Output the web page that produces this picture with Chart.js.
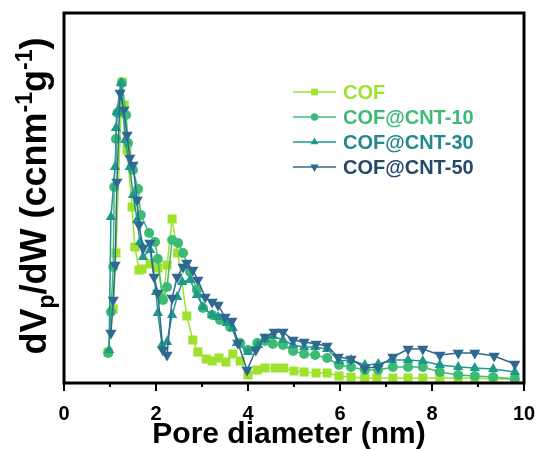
<!DOCTYPE html>
<html>
<head>
<meta charset="utf-8">
<script src="https://cdn.jsdelivr.net/npm/chart.js@4.4.1/dist/chart.umd.min.js"></script>
<style>
  body { margin: 0; background: #fff; }
  #wrap { width: 539px; height: 450px; }
</style>
</head>
<body>
<div id="wrap"><canvas id="psd" width="539" height="450"></canvas></div>
<script>
// pore size distribution (y in arbitrary units)
const seriesNames = ['COF', 'COF@CNT-10', 'COF@CNT-30', 'COF@CNT-50'];

const cofX = [0.96, 1.07, 1.13, 1.26, 1.31, 1.37, 1.48, 1.54, 1.63, 1.70, 1.87, 2.04, 2.15, 2.24, 2.35, 2.47, 2.67, 2.80, 2.91, 3.09, 3.22, 3.37, 3.52, 3.67, 3.83, 4.00, 4.20, 4.37, 4.59, 4.78, 5.00, 5.22, 5.48, 5.72, 5.98, 6.24, 6.54, 6.80, 7.15, 7.48, 7.80, 8.17, 8.57, 8.93, 9.33, 9.80];
const cofY = [0.31, 0.74, 1.30, 3.01, 2.78, 2.33, 1.76, 1.36, 1.13, 1.14, 1.19, 1.15, 0.84, 1.18, 1.64, 1.30, 0.67, 0.43, 0.31, 0.24, 0.22, 0.25, 0.21, 0.29, 0.22, 0.08, 0.13, 0.15, 0.15, 0.15, 0.12, 0.11, 0.10, 0.10, 0.07, 0.06, 0.05, 0.05, 0.05, 0.05, 0.05, 0.05, 0.05, 0.05, 0.04, 0.04];

const cnt10X = [0.96, 1.02, 1.07, 1.09, 1.13, 1.16, 1.26, 1.35, 1.39, 1.50, 1.61, 1.67, 1.85, 1.98, 2.04, 2.15, 2.24, 2.35, 2.48, 2.59, 2.74, 2.89, 3.02, 3.22, 3.39, 3.61, 3.83, 4.00, 4.20, 4.37, 4.54, 4.76, 4.98, 5.22, 5.46, 5.72, 5.98, 6.24, 6.54, 6.83, 7.15, 7.48, 7.80, 8.17, 8.57, 8.93, 9.33, 9.80];
const cnt10Y = [0.30, 0.71, 1.16, 1.96, 2.44, 2.70, 3.00, 2.68, 2.40, 2.13, 1.94, 1.68, 1.50, 1.41, 1.24, 0.83, 0.96, 1.43, 1.40, 1.30, 1.11, 0.93, 0.75, 0.68, 0.63, 0.56, 0.40, 0.33, 0.40, 0.42, 0.39, 0.38, 0.32, 0.29, 0.28, 0.25, 0.18, 0.16, 0.13, 0.13, 0.16, 0.16, 0.16, 0.11, 0.08, 0.07, 0.06, 0.04];

const cnt30X = [0.98, 1.02, 1.11, 1.13, 1.15, 1.24, 1.33, 1.43, 1.50, 1.59, 1.65, 1.72, 1.87, 2.00, 2.04, 2.13, 2.24, 2.35, 2.46, 2.57, 2.74, 2.89, 3.02, 3.22, 3.35, 3.54, 3.67, 3.76, 4.00, 4.22, 4.37, 4.54, 4.76, 4.98, 5.22, 5.46, 5.72, 5.98, 6.24, 6.54, 6.83, 7.13, 7.48, 7.80, 8.17, 8.57, 8.93, 9.33, 9.80];
const cnt30Y = [0.33, 1.66, 2.16, 2.55, 2.71, 3.00, 2.43, 2.16, 1.88, 1.63, 1.41, 1.26, 1.33, 0.91, 0.70, 0.38, 0.41, 0.68, 0.86, 1.01, 1.03, 0.88, 0.76, 0.68, 0.66, 0.60, 0.55, 0.40, 0.31, 0.38, 0.44, 0.47, 0.43, 0.38, 0.36, 0.36, 0.34, 0.22, 0.23, 0.18, 0.19, 0.23, 0.23, 0.22, 0.18, 0.16, 0.15, 0.14, 0.11];

const cnt50X = [1.02, 1.07, 1.11, 1.15, 1.22, 1.30, 1.37, 1.43, 1.50, 1.59, 1.63, 1.72, 1.87, 1.96, 2.04, 2.15, 2.24, 2.35, 2.46, 2.59, 2.67, 2.80, 2.91, 3.07, 3.22, 3.35, 3.50, 3.65, 3.78, 3.98, 4.17, 4.37, 4.57, 4.76, 4.98, 5.22, 5.48, 5.72, 5.96, 6.24, 6.54, 6.83, 7.15, 7.48, 7.80, 8.17, 8.57, 8.93, 9.35, 9.80];
const cnt50Y = [0.50, 0.83, 1.18, 2.01, 2.90, 2.73, 2.48, 2.25, 2.18, 1.83, 1.58, 1.35, 1.40, 1.06, 0.90, 0.33, 0.28, 0.85, 1.06, 1.16, 1.20, 1.13, 1.03, 0.86, 0.81, 0.78, 0.66, 0.62, 0.40, 0.13, 0.33, 0.46, 0.51, 0.51, 0.43, 0.41, 0.39, 0.37, 0.26, 0.24, 0.15, 0.16, 0.26, 0.34, 0.34, 0.28, 0.30, 0.30, 0.27, 0.19];

const xTicks = [0, 2, 4, 6, 8, 10];

const lineColors = ['#9ee22e', '#3cbb75', '#1f9a8a', '#2f6890'];
const textColors = ['#9ee22e', '#3cbb75', '#23898d', '#26486a'];
const markers = [
  { style: 'rect', radius: 6.4, rotation: 0 },
  { style: 'circle', radius: 5, rotation: 0 },
  { style: 'triangle', radius: 6, rotation: 0 },
  { style: 'triangle', radius: 6.5, rotation: 180 }
];

function toPoints(xs, ys) {
  return xs.map((x, i) => ({ x: x, y: ys[i] }));
}

const allX = [cofX, cnt10X, cnt30X, cnt50X];
const allY = [cofY, cnt10Y, cnt30Y, cnt50Y];

const datasets = seriesNames.map((name, i) => ({
  label: name,
  data: toPoints(allX[i], allY[i]),
  borderColor: lineColors[i],
  backgroundColor: lineColors[i],
  borderWidth: 1.5,
  pointStyle: markers[i].style,
  pointRadius: markers[i].radius,
  pointRotation: markers[i].rotation,
  pointBorderWidth: 0,
  tension: 0,
  order: 4 - i
}));

const FONT = '"Liberation Sans", Arial, sans-serif';

// frame, tick marks, axis titles and the legend
const decor = {
  id: 'decor',
  afterDatasetsDraw(chart) {
    const ctx = chart.ctx;
    const a = chart.chartArea;
    const xs = chart.scales.x;
    ctx.save();

    ctx.strokeStyle = '#000';
    ctx.lineWidth = 3;
    ctx.strokeRect(a.left, a.top, a.right - a.left, a.bottom - a.top);

    ctx.lineWidth = 2;
    for (let v = 0; v <= 10; v++) {
      const px = xs.getPixelForValue(v);
      const len = v % 2 === 0 ? 8 : 4;
      ctx.beginPath();
      ctx.moveTo(px, a.bottom);
      ctx.lineTo(px, a.bottom + len);
      ctx.stroke();
    }

    // x title
    ctx.fillStyle = '#000';
    ctx.font = 'bold 30px ' + FONT;
    ctx.textAlign = 'center';
    ctx.textBaseline = 'alphabetic';
    ctx.fillText('Pore diameter (nm)', 289, 443);

    // y title with sub/superscripts
    const big = 36, small = 23;
    const parts = [
      { t: 'dV', s: big, dy: 0 },
      { t: 'p', s: small, dy: 8 },
      { t: '/dW (ccnm', s: big, dy: 0 },
      { t: '-1', s: small, dy: -14 },
      { t: 'g', s: big, dy: 0 },
      { t: '-1', s: small, dy: -14 },
      { t: ')', s: big, dy: 0 }
    ];
    let total = 0;
    parts.forEach(p => {
      ctx.font = 'bold ' + p.s + 'px ' + FONT;
      p.w = ctx.measureText(p.t).width;
      total += p.w;
    });
    ctx.translate(46, 196);
    ctx.rotate(-Math.PI / 2);
    ctx.textAlign = 'left';
    let cx = -total / 2;
    parts.forEach(p => {
      ctx.font = 'bold ' + p.s + 'px ' + FONT;
      ctx.fillText(p.t, cx, p.dy);
      cx += p.w;
    });
    ctx.setTransform(1, 0, 0, 1, 0, 0);

    // legend
    const rowY = [92, 117, 142, 167];
    ctx.font = 'bold 20px ' + FONT;
    ctx.textBaseline = 'middle';
    seriesNames.forEach((name, i) => {
      const y = rowY[i];
      ctx.strokeStyle = lineColors[i];
      ctx.lineWidth = 1.5;
      ctx.beginPath();
      ctx.moveTo(293, y);
      ctx.lineTo(336, y);
      ctx.stroke();
      ctx.fillStyle = lineColors[i];
      Chart.helpers.drawPoint(ctx, {
        pointStyle: markers[i].style,
        radius: markers[i].radius * 0.75,
        rotation: markers[i].rotation,
        borderWidth: 0
      }, 314.5, y);
      ctx.fillStyle = textColors[i];
      ctx.fillText(name, 343, y + 1);
    });
    ctx.restore();
  }
};

new Chart(document.getElementById('psd'), {
  type: 'line',
  data: { datasets: datasets },
  options: {
    responsive: false,
    animation: false,
    layout: { padding: { left: 64, top: 13, right: 15, bottom: 0 } },
    plugins: { legend: { display: false }, tooltip: { enabled: false } },
    scales: {
      x: {
        type: 'linear',
        min: 0,
        max: 10,
        grid: { display: false },
        border: { display: false },
        afterFit: s => {
          s.height = 67;
          s.paddingLeft = 0;
          s.paddingRight = 0;
        },
        afterBuildTicks: s => { s.ticks = xTicks.map(v => ({ value: v })); },
        ticks: {
          color: '#000',
          font: { family: FONT, size: 20, weight: 'bold' },
          padding: 11,
          maxRotation: 0,
          autoSkip: false
        }
      },
      y: {
        display: false,
        min: 0,
        max: 3.7
      }
    }
  },
  plugins: [decor]
});
</script>
</body>
</html>
